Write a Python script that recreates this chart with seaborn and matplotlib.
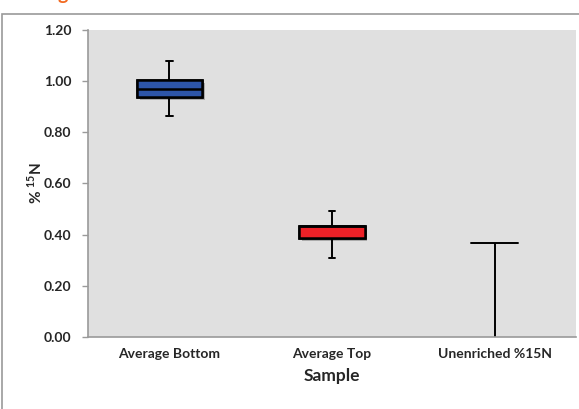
import numpy as np
import pandas as pd
import matplotlib
matplotlib.use("Agg")
import matplotlib.pyplot as plt
import matplotlib.patheffects as pe
from matplotlib.patches import Rectangle
from matplotlib.ticker import FormatStrFormatter, FixedLocator
import seaborn as sns

samples = ["Average Bottom", "Average Top", "Unenriched %15N"]
# five numbers: low whisker, Q1, median, Q3, high whisker
bottom_vals = [0.862, 0.937, 0.970, 1.003, 1.078]
top_vals = [0.307, 0.388, 0.433, 0.433, 0.492]
unenriched_vals = [0.0, 0.0, 0.0, 0.0, 0.368]
box_colors = {"Average Bottom": "#2D55A8", "Average Top": "#EE2127"}

boxes = pd.DataFrame({
    "Sample": [samples[0]] * 5 + [samples[1]] * 5,
    "value": bottom_vals + top_vals,
})
unenriched = pd.DataFrame({"Sample": [samples[2]] * 5, "value": unenriched_vals})

sns.set_style("white")
plt.rcParams["font.family"] = ["Lato", "DejaVu Sans"]
plt.rcParams["mathtext.fontset"] = "custom"
plt.rcParams["mathtext.rm"] = "Lato:bold"

fig = plt.figure(figsize=(5.79, 4.09), dpi=100)
# outer chart frame, cut off at the right and bottom like the screenshot
fig.patches.append(Rectangle((2 / 579, -0.1), 1.2, 1.1 - 15 / 409 + 0.003,
                             transform=fig.transFigure, fill=False,
                             edgecolor="#9a9a9a", linewidth=1.2))
# descender of the cropped orange title
fig.text(63 / 579, 1.0, "g", color="#F26A21", fontsize=14, fontweight="bold",
         ha="center", va="baseline")

ax = fig.add_axes([88 / 579, 1 - 337 / 409, 488 / 579, 307 / 409])
ax.set_facecolor("#E0E0E0")

shadow = [pe.withSimplePatchShadow(offset=(2, -2), shadow_rgbFace="#777777", alpha=0.5), pe.Normal()]
sns.boxplot(data=boxes, x="Sample", y="value", order=samples, hue="Sample",
            palette=box_colors, saturation=1, whis=(0, 100), width=0.4,
            linecolor="black", linewidth=1.4, legend=False, capwidths=0.04,
            boxprops={"path_effects": shadow, "linewidth": 1.8},
            medianprops={"linewidth": 1.8}, ax=ax)

n_before = len(ax.lines)
sns.boxplot(data=unenriched, x="Sample", y="value", order=samples, fill=False,
            color="black", whis=(0, 100), width=0.4, linecolor="black",
            linewidth=1.4, capwidths=0.29, ax=ax)
# the zero-height box sits on the axis: hide its flat parts
for line in ax.lines[n_before:]:
    yd = np.asarray(line.get_ydata(), dtype=float)
    if len(yd) and np.max(yd) == 0:
        line.set_visible(False)

ax.set_ylim(0, 1.2)
ax.set_xlim(-0.5, 2.5)
ax.yaxis.set_major_locator(FixedLocator(np.arange(0, 1.21, 0.2)))
ax.yaxis.set_major_formatter(FormatStrFormatter("%.2f"))
ax.xaxis.set_minor_locator(FixedLocator([-0.5, 0.5, 1.5, 2.5]))
ax.tick_params(axis="x", which="major", length=0, pad=8, labelsize=10)
ax.tick_params(axis="x", which="minor", length=5, color="#9a9a9a", width=1)
ax.tick_params(axis="y", length=4, color="#9a9a9a", width=1, labelsize=10, left=True, pad=8)
for lab in ax.get_xticklabels() + ax.get_yticklabels():
    lab.set_fontweight("bold")

for side in ["top", "right"]:
    ax.spines[side].set_visible(False)
for side in ["left", "bottom"]:
    ax.spines[side].set_color("#9a9a9a")
    ax.spines[side].set_linewidth(1.2)

ax.set_xlabel("Sample", fontsize=12.5, fontweight="bold", labelpad=6)
ax.set_ylabel("% $^{15}$N", fontsize=11, fontweight="bold", labelpad=-1)

fig.savefig("out.png", dpi=100)
